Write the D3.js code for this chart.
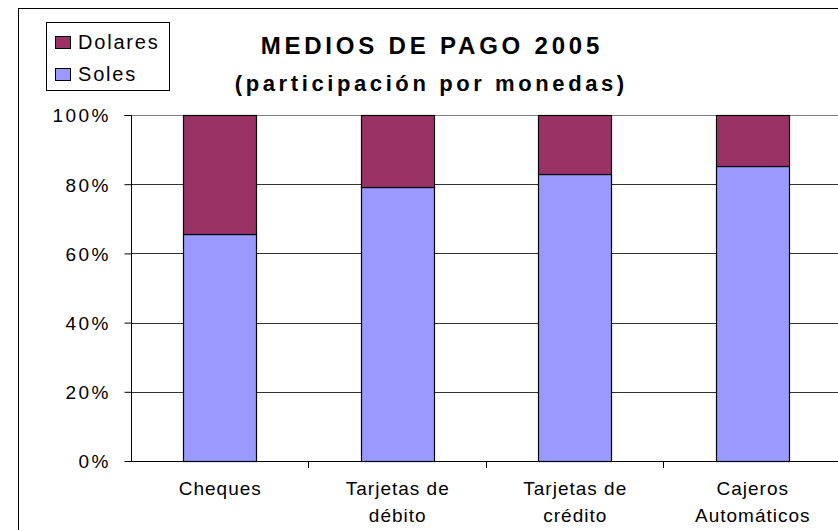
<!DOCTYPE html>
<html><head><meta charset="utf-8">
<script src="https://cdn.jsdelivr.net/npm/d3@7"></script>
<style>body{margin:0;background:#fff}svg{display:block;font-family:"Liberation Sans",Arial,sans-serif}</style>
</head><body><svg id="c" width="838" height="530"></svg>
<script>
const categories = [["Cheques"], ["Tarjetas de", "débito"], ["Tarjetas de", "crédito"], ["Cajeros", "Automáticos"]];
const seriesNames = ["Soles", "Dolares"];
const soles = [0.655, 0.793, 0.829, 0.853];
const dolares = [0.345, 0.207, 0.171, 0.147];
const yTicks = [0, 0.2, 0.4, 0.6, 0.8, 1.0];
const colors = {Soles: "#9999FF", Dolares: "#993366"};

(function () {
const FF = "Liberation Sans, Arial, sans-serif";
const svg = d3.select("#c");
svg.append("rect").attr("x", 18.5).attr("y", 8.5).attr("width", 900).attr("height", 600)
  .attr("fill", "#fff").attr("stroke", "#000").attr("stroke-width", 1);

const pL = 131, pR = 841, pT = 115, pB = 461;
const x = d3.scaleBand().domain(d3.range(categories.length)).range([pL, pR]).paddingInner(0.59).paddingOuter(0.295);
const y = d3.scaleLinear().domain([0, 1]).range([pB, pT]);

// gridlines
svg.append("g").selectAll("line").data(yTicks.slice(1)).join("line")
  .attr("x1", pL).attr("x2", 838).attr("y1", d => Math.round(y(d)) + 0.5).attr("y2", d => Math.round(y(d)) + 0.5)
  .attr("stroke", d => d === 1 ? "#808080" : "#333").attr("stroke-width", 1);

const data = categories.map((c, i) => ({i, Soles: soles[i], Dolares: dolares[i]}));
const stacked = d3.stack().keys(seriesNames)(data);
svg.append("g").selectAll("g").data(stacked).join("g").attr("fill", d => colors[d.key])
  .selectAll("rect").data(d => d).join("rect")
  .attr("x", d => Math.round(x(d.data.i)) + 0.5).attr("width", Math.round(x.bandwidth()))
  .attr("y", d => Math.round(y(d[1])) + 0.5).attr("height", d => Math.round(y(d[0])) - Math.round(y(d[1])))
  .attr("stroke", "#000").attr("stroke-width", 1.2);

// y axis
const ya = svg.append("g").attr("transform", `translate(${pL + 0.5},0)`)
  .call(d3.axisLeft(y).tickValues(yTicks).tickFormat(d3.format(".0%")).tickSize(7).tickPadding(13.5));
ya.attr("font-family", FF).attr("font-size", 19);
ya.select(".domain").attr("stroke", "#000").attr("d", `M-7,${pT + 0.5}H0V${pB + 0.5}`);
ya.selectAll(".tick line").attr("stroke", "#000");
ya.selectAll(".tick text").attr("fill", "#000").attr("letter-spacing", 2.5).attr("dy", "0.36em");

// x axis
svg.append("line").attr("x1", pL).attr("x2", 838).attr("y1", pB + 0.5).attr("y2", pB + 0.5).attr("stroke", "#000");
const step = x.step();
svg.append("g").selectAll("line").data(d3.range(1, categories.length + 1)).join("line")
  .attr("x1", d => Math.round(pL + d * step - 0.5) + 0.5).attr("x2", d => Math.round(pL + d * step - 0.5) + 0.5)
  .attr("y1", pB).attr("y2", pB + 7).attr("stroke", "#000");
const lab = svg.append("g").attr("font-family", FF).selectAll("text").data(categories).join("text")
  .attr("x", (d, i) => x(i) + x.bandwidth() / 2 + 0.5).attr("y", 495)
  .attr("text-anchor", "middle").attr("font-size", 19).attr("letter-spacing", 1).attr("fill", "#000");
lab.selectAll("tspan").data(d => d).join("tspan")
  .attr("x", function() { return this.parentNode.getAttribute("x"); })
  .attr("dy", (d, j) => j === 0 ? 0 : 27).text(d => d);

// title
svg.append("text").attr("x", 430 + 1.9).attr("y", 54).attr("text-anchor", "middle").attr("font-family", FF)
  .attr("font-size", 24).attr("font-weight", "bold").attr("letter-spacing", 3.8).text("MEDIOS DE PAGO 2005");
svg.append("text").attr("x", 429.5 + 1.8).attr("y", 91).attr("text-anchor", "middle").attr("font-family", FF)
  .attr("font-size", 22).attr("font-weight", "bold").attr("letter-spacing", 3.6).text("(participación por monedas)");

// legend
const lg = svg.append("g").attr("font-family", FF);
lg.append("rect").attr("x", 46.5).attr("y", 22.5).attr("width", 123).attr("height", 68).attr("fill", "#fff").attr("stroke", "#000");
const items = ["Dolares", "Soles"];
items.forEach((k, i) => {
  lg.append("rect").attr("x", 55.5).attr("y", 36.5 + i * 32).attr("width", 15).attr("height", 12)
    .attr("fill", colors[k]).attr("stroke", "#000");
  lg.append("text").attr("x", 78).attr("y", 48.5 + i * 32.5).attr("font-size", 20).attr("letter-spacing", 1.8).text(k);
});
})();
</script></body></html>
